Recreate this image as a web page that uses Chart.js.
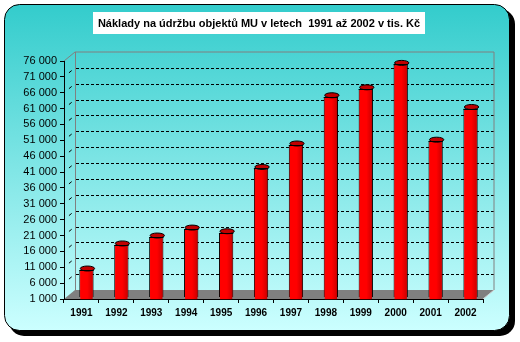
<!DOCTYPE html>
<html><head><meta charset="utf-8">
<script src="https://cdn.jsdelivr.net/npm/chart.js@4"></script>
<style>html,body{margin:0;padding:0;background:#fff;}canvas{display:block;}</style>
</head><body>
<canvas id="c" width="520" height="342"></canvas>
<script>
const chartTitle = 'Náklady na údržbu objektů MU v letech  1991 až 2002 v tis. Kč';
const years = ['1991','1992','1993','1994','1995','1996','1997','1998','1999','2000','2001','2002'];
const costs = [9500, 17400, 19900, 22400, 21250, 41500, 48900, 64100, 66600, 74300, 50100, 60400];
const yMin = 1000;
const yMax = 76000;
const yStep = 5000;

const FONT = '"Liberation Sans", Arial, sans-serif';
const DX = 11, DY = -9;        // depth offset of back wall
const BAR_DX = 5, BAR_DY = -2; // bars sit slightly into the depth

function rr(ctx, x, y, w, h, r) {
  ctx.beginPath();
  ctx.moveTo(x + r, y);
  ctx.arcTo(x + w, y, x + w, y + h, r);
  ctx.arcTo(x + w, y + h, x, y + h, r);
  ctx.arcTo(x, y + h, x, y, r);
  ctx.arcTo(x, y, x + w, y, r);
  ctx.closePath();
}

const decor = {
  id: 'decor',
  beforeDraw(chart) {
    const ctx = chart.ctx, a = chart.chartArea, ys = chart.scales.y;
    ctx.save();
    // frame shadow + frame
    ctx.fillStyle = '#000';
    rr(ctx, 9, 9, 506, 327, 15); ctx.fill();
    const g = ctx.createLinearGradient(0, 4, 0, 331);
    g.addColorStop(0, '#33CCCC');
    g.addColorStop(1, '#CCFFFF');
    ctx.fillStyle = g;
    rr(ctx, 4.5, 4.5, 505, 326, 15); ctx.fill();
    ctx.strokeStyle = '#000'; ctx.lineWidth = 1; ctx.stroke();
    // title box
    ctx.fillStyle = '#fff';
    ctx.fillRect(93, 12, 332, 22);
    ctx.fillStyle = '#000';
    ctx.font = 'bold 11px ' + FONT;
    ctx.textAlign = 'center'; ctx.textBaseline = 'middle';
    ctx.fillText(chartTitle, 259, 23.5);

    const yb = ys.getPixelForValue(yMin), yt = ys.getPixelForValue(yMax);
    // floor
    ctx.fillStyle = '#808080';
    ctx.beginPath();
    ctx.moveTo(a.left, yb); ctx.lineTo(a.right, yb);
    ctx.lineTo(a.right + DX, yb + DY); ctx.lineTo(a.left + DX, yb + DY);
    ctx.closePath(); ctx.fill();
    // back wall gridlines (dashed)
    ctx.strokeStyle = '#000'; ctx.lineWidth = 1; ctx.setLineDash([3, 2]);
    ys.ticks.forEach(t => {
      if (t.value <= yMin || t.value >= yMax) return;
      const y = Math.round(ys.getPixelForValue(t.value) + DY) + 0.5;
      ctx.beginPath(); ctx.moveTo(a.left + DX + 1, y); ctx.lineTo(a.right + DX, y); ctx.stroke();
    });
    ctx.setLineDash([]);
    // side wall gridline stubs
    ys.ticks.forEach(t => {
      if (t.value <= yMin || t.value >= yMax) return;
      const y = ys.getPixelForValue(t.value);
      ctx.beginPath();
      ctx.moveTo(a.left + DX * 0.45, y + DY * 0.45);
      ctx.lineTo(a.left + DX * 0.7, y + DY * 0.7);
      ctx.stroke();
    });
    // wall outline
    ctx.strokeStyle = '#808080';
    ctx.beginPath();
    ctx.moveTo(a.left, yt); ctx.lineTo(a.left + DX, yt + DY);
    ctx.lineTo(a.right + DX, yt + DY); ctx.lineTo(a.right + DX, yb + DY);
    ctx.moveTo(a.left + DX + 0.5, yt + DY); ctx.lineTo(a.left + DX + 0.5, yb + DY);
    ctx.stroke();
    ctx.strokeStyle = '#D0D0D0';
    ctx.beginPath();
    ctx.moveTo(a.right, yb); ctx.lineTo(a.right + DX, yb + DY);
    ctx.stroke();
    ctx.restore();
  },
  beforeDatasetsDraw(chart) {
    chart.ctx.save();
    chart.ctx.translate(BAR_DX, BAR_DY);
  },
  afterDatasetsDraw(chart) {
    const ctx = chart.ctx;
    const meta = chart.getDatasetMeta(0);
    meta.data.forEach(el => {
      const p = el.getProps(['x', 'y', 'base', 'width'], true);
      const l = p.x - p.width / 2, r = p.x + p.width / 2;
      // cylinder shading
      const g = ctx.createLinearGradient(l, 0, r, 0);
      g.addColorStop(0, '#FF0000');
      g.addColorStop(0.55, '#FF0000');
      g.addColorStop(0.85, '#D80000');
      g.addColorStop(1, '#A00000');
      ctx.fillStyle = g;
      ctx.fillRect(l + 1, p.y + 1, p.width - 2, p.base - p.y - 2);
      // top cap
      ctx.beginPath();
      ctx.ellipse(p.x + 1, p.y - 1.5, p.width / 2, 2.5, 0, 0, Math.PI * 2);
      ctx.fillStyle = '#C00000'; ctx.fill();
      ctx.strokeStyle = '#000'; ctx.lineWidth = 1; ctx.stroke();
      ctx.beginPath();
      ctx.moveTo(l, Math.round(p.y) + 0.5); ctx.lineTo(r, Math.round(p.y) + 0.5);
      ctx.stroke();
    });
    ctx.restore();
  }
};

const ctx = document.getElementById('c').getContext('2d');
new Chart(ctx, {
  type: 'bar',
  data: {
    labels: years,
    datasets: [{
      data: costs,
      backgroundColor: '#FF0000',
      borderColor: '#000',
      borderWidth: 1,
      borderSkipped: false,
      categoryPercentage: 1,
      barPercentage: 0.41
    }]
  },
  options: {
    responsive: false,
    animation: false,
    devicePixelRatio: 1,
    layout: { padding: { left: 0, right: 37, top: 61, bottom: 0 } },
    plugins: { legend: { display: false }, tooltip: { enabled: false }, title: { display: false } },
    scales: {
      x: {
        afterFit(s) { s.height = 43; },
        grid: { display: true, drawOnChartArea: false, drawTicks: true, tickLength: 4, tickColor: '#000', offset: true },
        border: { display: true, color: '#000', width: 1 },
        ticks: { color: '#000', font: { family: FONT, size: 10, weight: 'bold' }, padding: 4, maxRotation: 0, autoSkip: false }
      },
      y: {
        min: yMin, max: yMax,
        afterFit(s) { s.width = 64; },
        grid: { display: true, drawOnChartArea: false, drawTicks: true, tickLength: 4, tickColor: '#000' },
        border: { display: true, color: '#000', width: 1 },
        ticks: {
          stepSize: yStep, color: '#000', padding: 3, autoSkip: false,
          font: { family: FONT, size: 11 },
          callback: v => String(v).replace(/\B(?=(\d{3})+(?!\d))/g, ' ')
        }
      }
    }
  },
  plugins: [decor]
});
</script>
</body></html>
